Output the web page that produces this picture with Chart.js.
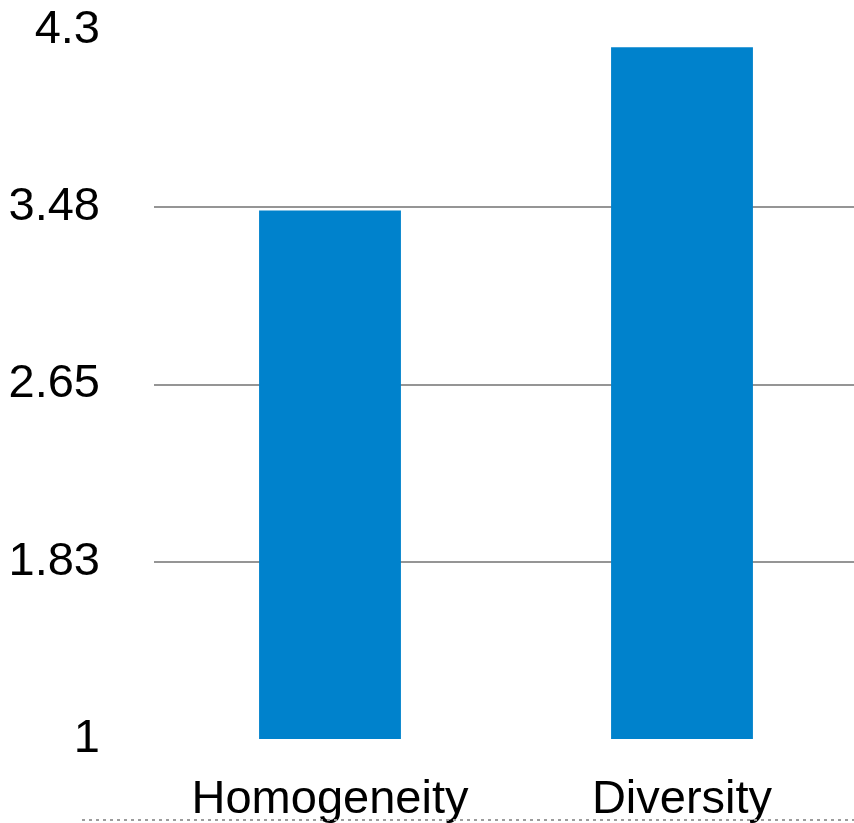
<!DOCTYPE html>
<html>
<head>
<meta charset="utf-8">
<script src="https://cdn.jsdelivr.net/npm/chart.js@4/dist/chart.umd.min.js"></script>
<style>
  html, body { margin: 0; padding: 0; background: #fff; overflow: hidden; }
  #wrap { width: 858px; height: 823px; position: relative; }
</style>
</head>
<body>
<div id="wrap"><canvas id="barChart"></canvas></div>
<script>
const categories = ["Homogeneity", "Diversity"];
const scores = [3.46, 4.22];
const tickValues = [1, 1.825, 2.65, 3.475, 4.3];
const tickLabels = ["1", "1.83", "2.65", "3.48", "4.3"];

const barColor = "#0082cc";
const fontFamily = "'Liberation Sans', Arial, sans-serif";

// dotted rule along the bottom of the figure
const bottomRule = {
  id: "bottomRule",
  afterDraw(chart) {
    const ctx = chart.ctx;
    ctx.save();
    ctx.strokeStyle = "#9c9c9c";
    ctx.lineWidth = 2;
    ctx.setLineDash([3, 4]);
    ctx.beginPath();
    ctx.moveTo(82, 820);
    ctx.lineTo(chart.width, 820);
    ctx.stroke();
    ctx.restore();
  },
};

new Chart(document.getElementById("barChart").getContext("2d"), {
  type: "bar",
  data: {
    labels: categories,
    datasets: [
      {
        label: "Score",
        data: scores,
        backgroundColor: barColor,
        borderWidth: 0,
        categoryPercentage: 1,
        barPercentage: 0.403,
      },
    ],
  },
  options: {
    responsive: true,
    maintainAspectRatio: false,
    animation: false,
    layout: { padding: { top: 30, right: 0, bottom: 0, left: 0 } },
    plugins: {
      legend: { display: false },
      tooltip: { enabled: false },
    },
    scales: {
      x: {
        grid: { display: false, drawTicks: false },
        border: { display: false },
        ticks: {
          color: "#000",
          padding: 33,
          font: { family: fontFamily, size: 47 },
        },
        afterFit: (scale) => {
          scale.height = 84;
          scale.paddingLeft = 0;
          scale.paddingRight = 0;
        },
      },
      y: {
        min: 1,
        max: 4.3,
        border: { display: false },
        grid: {
          drawTicks: false,
          lineWidth: 2,
          color: (ctx) =>
            ctx.index === 0 || ctx.index === tickValues.length - 1
              ? "rgba(0,0,0,0)"
              : "#959595",
        },
        afterBuildTicks: (scale) => {
          scale.ticks = tickValues.map((v) => ({ value: v }));
        },
        ticks: {
          color: "#000",
          padding: 54,
          font: { family: fontFamily, size: 47 },
          callback: (value, index) => tickLabels[index],
        },
        afterFit: (scale) => {
          scale.width = 154;
          scale.paddingTop = 0;
          scale.paddingBottom = 0;
        },
      },
    },
  },
  plugins: [bottomRule],
});
</script>
</body>
</html>
